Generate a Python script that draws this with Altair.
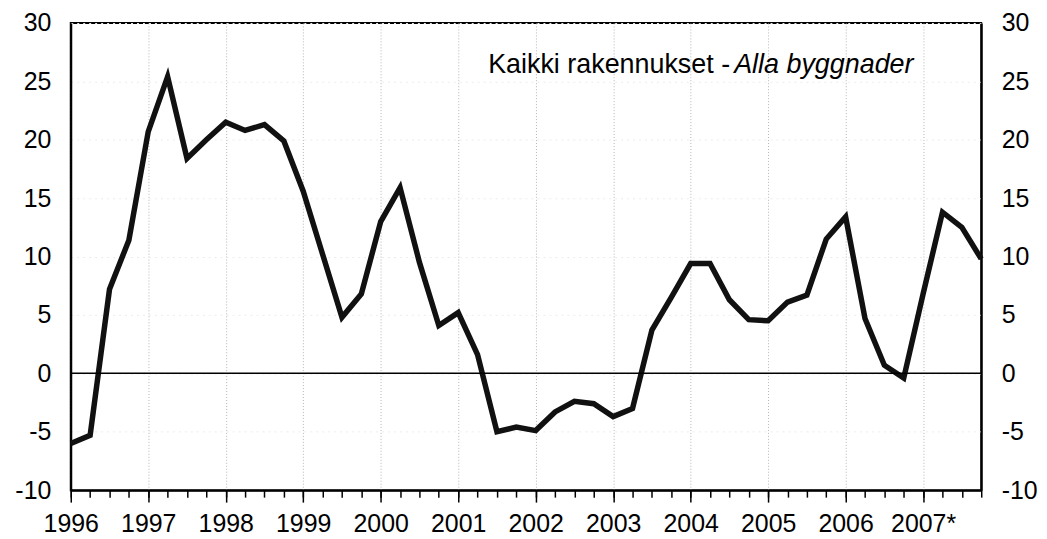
import altair as alt
import pandas as pd

years = list(range(1996, 2008))
quarter_offsets = [0.0, 0.25, 0.5, 0.75]
values = [
    -6.0, -5.3, 7.2, 11.4,
    20.7, 25.4, 18.4, 20.0,
    21.5, 20.8, 21.3, 19.9,
    15.6, 10.2, 4.8, 6.8,
    13.0, 15.9, 9.5, 4.1,
    5.2, 1.6, -5.0, -4.6,
    -4.9, -3.3, -2.4, -2.6,
    -3.7, -3.0, 3.7, 6.5,
    9.4, 9.4, 6.3, 4.6,
    4.5, 6.1, 6.7, 11.5,
    13.4, 4.7, 0.7, -0.4,
    6.8, 13.8, 12.5, 9.8,
]
y_ticks = [-10, -5, 0, 5, 10, 15, 20, 25, 30]
title_fi = "Kaikki rakennukset -"
title_sv = "Alla byggnader"

periods = [y + q for y in years for q in quarter_offsets]
df = pd.DataFrame({"t": periods, "v": values})

FONT = "Liberation Sans"
xscale = alt.Scale(domain=[1996, 2007.75], nice=False, zero=False)
yscale = alt.Scale(domain=[-10, 30], nice=False)

major_x = alt.Axis(
    orient="bottom", values=years,
    labelExpr="datum.value == 2007 ? '2007*' : '' + datum.value",
    title=None, tickSize=12, tickColor="black", tickWidth=1.5,
    domainColor="black", domainWidth=2,
    grid=True, gridColor="#b5b5b5", gridDash=[1, 2], gridWidth=1,
    labelFontSize=25, labelFont=FONT, labelColor="black",
    labelPadding=10, labelOverlap=False, labelFlush=False,
)
minor_x = alt.Axis(
    orient="bottom", values=periods, title=None, labels=False, domain=False,
    grid=False, tickSize=7, tickColor="black", tickWidth=1.5,
)
left_y = alt.Axis(
    orient="left", values=y_ticks, title=None, ticks=False,
    labelExpr="'' + datum.value",
    domainColor="black", domainWidth=2,
    grid=True, gridColor="#ececec", gridDash=[2, 4], gridWidth=1,
    labelFontSize=25, labelFont=FONT, labelColor="black", labelPadding=20,
    labelFlush=False,
)
right_y = alt.Axis(
    orient="right", values=y_ticks, title=None, ticks=False,
    labelExpr="'' + datum.value",
    domainColor="black", domainWidth=2, grid=False,
    labelFontSize=25, labelFont=FONT, labelColor="black", labelPadding=20,
    labelFlush=False,
)

base = alt.Chart(df)

line = base.mark_line(color="#111111", strokeWidth=5.5, strokeJoin="miter").encode(
    x=alt.X("t:Q", scale=xscale, axis=major_x),
    y=alt.Y("v:Q", scale=yscale, axis=left_y),
)
ghost = base.mark_line(opacity=0).encode(
    x=alt.X("t:Q", scale=xscale, axis=minor_x),
    y=alt.Y("v:Q", scale=yscale, axis=right_y),
)
zero = alt.Chart(pd.DataFrame({"z": [0]})).mark_rule(color="black", strokeWidth=1.5).encode(
    y=alt.Y("z:Q", scale=yscale, axis=None)
)
txt1 = alt.Chart(pd.DataFrame({"s": [title_fi]})).mark_text(
    align="left", baseline="alphabetic", font=FONT, fontSize=27, color="black"
).encode(text="s:N", x=alt.value(419), y=alt.value(50))
txt2 = alt.Chart(pd.DataFrame({"s": [title_sv]})).mark_text(
    align="left", baseline="alphabetic", font=FONT, fontSize=27, fontStyle="italic", color="black"
).encode(text="s:N", x=alt.value(666), y=alt.value(50))

chart = alt.layer(line, ghost, zero, txt1, txt2).resolve_axis(
    x="independent", y="independent"
).properties(
    width=914, height=469,
    autosize=alt.AutoSizeParams(type="none"),
    padding={"left": 63, "top": 14, "right": 58, "bottom": 48},
    background="white",
).configure_view(stroke="black", strokeWidth=2)

chart.save("out.html", embed_options={"renderer": "svg", "actions": False})
